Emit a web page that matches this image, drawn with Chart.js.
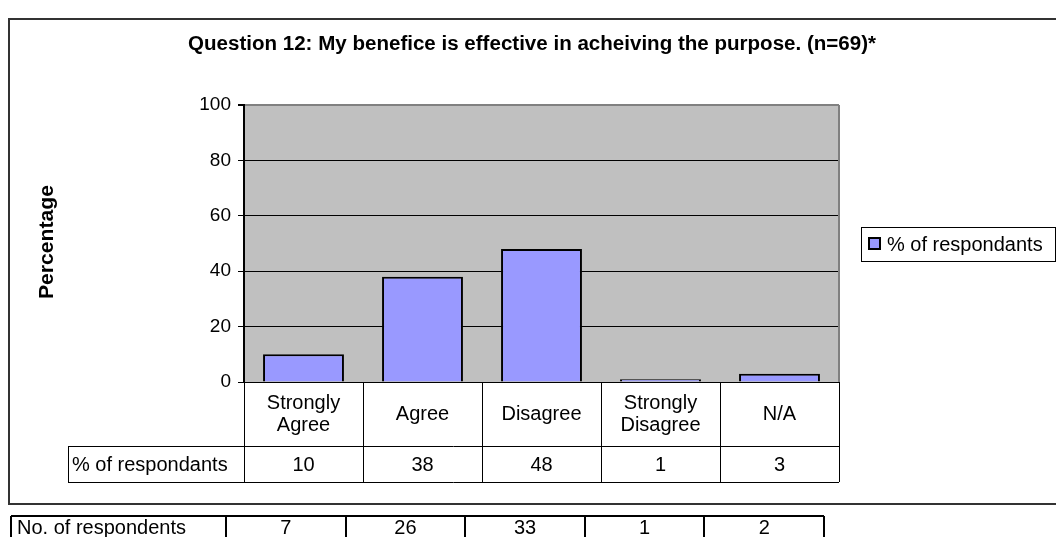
<!DOCTYPE html>
<html lang="en">
<head>
    <meta charset="UTF-8">
    <title>Question 12</title>
    <script src="https://cdn.jsdelivr.net/npm/chart.js"></script>
    <style>
        html, body { margin: 0; padding: 0; background: #fff; }
        #wrap { width: 1056px; height: 537px; }
    </style>
</head>
<body>
    <div id="wrap"><canvas id="chart" width="1056" height="537"></canvas></div>

    <script>
        // data
        const categories = [['Strongly', 'Agree'], 'Agree', 'Disagree', ['Strongly', 'Disagree'], 'N/A'];
        const percentValues = [10, 38, 48, 1, 3];
        const respondentCounts = [7, 26, 33, 1, 2];
        const seriesName = '% of respondants';
        const countRowName = 'No. of respondents';
        const chartTitle = 'Question 12: My benefice is effective in acheiving the purpose. (n=69)*';
        const yAxisTitle = 'Percentage';

        const FONT = "'Liberation Sans', Arial, sans-serif";
        const BODY = '20px ' + FONT;

        // draw text squeezed/stretched to a given width (excel export looks stretched)
        function fitText(ctx, text, x, y, font, width, rotate) {
            ctx.save();
            ctx.font = font;
            const w = ctx.measureText(text).width;
            ctx.translate(x, y);
            if (rotate) ctx.rotate(-Math.PI / 2);
            ctx.scale(width / w, 1);
            ctx.textAlign = 'center';
            ctx.textBaseline = 'middle';
            ctx.fillStyle = '#000';
            ctx.fillText(text, 0, 0);
            ctx.restore();
        }

        function line(ctx, x1, y1, x2, y2, color, lw) {
            ctx.beginPath();
            ctx.strokeStyle = color;
            ctx.lineWidth = lw;
            ctx.moveTo(x1, y1);
            ctx.lineTo(x2, y2);
            ctx.stroke();
        }

        const excelBits = {
            id: 'excelBits',
            beforeDraw(chart) {
                const { ctx, chartArea: a } = chart;
                ctx.save();
                ctx.fillStyle = '#C0C0C0';
                ctx.fillRect(a.left, a.top, a.right - a.left, a.bottom - a.top);
                ctx.restore();
            },
            afterDraw(chart) {
                const { ctx, chartArea: a } = chart;
                const x = chart.scales.x;
                ctx.save();

                // right border of plot
                line(ctx, a.right, a.top, a.right, a.bottom, '#808080', 2);

                // titles
                fitText(ctx, chartTitle, 532, 44, 'bold 20px ' + FONT, 688, false);
                fitText(ctx, yAxisTitle, 47, 242, 'bold 20px ' + FONT, 114, true);

                // legend
                ctx.strokeStyle = '#000';
                ctx.lineWidth = 1;
                ctx.strokeRect(861.5, 227.5, 194, 34);
                ctx.fillStyle = '#9999FF';
                ctx.fillRect(869, 238, 11, 11);
                ctx.lineWidth = 2;
                ctx.strokeRect(869, 238, 11, 11);
                ctx.fillStyle = '#000';
                ctx.font = BODY;
                ctx.textAlign = 'left';
                ctx.textBaseline = 'middle';
                ctx.fillText(seriesName, 887, 245);

                // data table under the axis
                const n = categories.length;
                const step = (a.right - a.left) / n;
                const rowMid = 446, rowEnd = 482, headLeft = 68;
                for (let i = 0; i <= n; i++) {
                    const bx = Math.round(a.left + i * step) + 0.5;
                    line(ctx, bx, a.bottom, bx, rowEnd, '#000', 1);
                }
                line(ctx, headLeft, rowMid + 0.5, a.right, rowMid + 0.5, '#000', 1);
                line(ctx, headLeft, rowEnd + 0.5, a.right, rowEnd + 0.5, '#000', 1);
                line(ctx, headLeft + 0.5, rowMid, headLeft + 0.5, rowEnd, '#000', 1);

                ctx.font = BODY;
                ctx.textAlign = 'center';
                ctx.textBaseline = 'middle';
                categories.forEach((c, i) => {
                    const cx = x.getPixelForValue(i);
                    const lines = Array.isArray(c) ? c : [c];
                    const cy = (a.bottom + rowMid) / 2;
                    lines.forEach((t, k) => {
                        ctx.fillText(t, cx, cy + (k - (lines.length - 1) / 2) * 22);
                    });
                    ctx.fillText(String(percentValues[i]), cx, (rowMid + rowEnd) / 2 + 1);
                });
                ctx.textAlign = 'left';
                ctx.fillText(seriesName, headLeft + 4, (rowMid + rowEnd) / 2 + 1);

                // outer chart frame
                ctx.strokeStyle = '#333';
                ctx.lineWidth = 2;
                ctx.strokeRect(9, 19, 1060, 485);

                // respondents count table below the chart
                const tLeft = 11, tHead = 215, colW = 119.6, tTop = 516;
                const tRight = tLeft + tHead + colW * n;
                line(ctx, tLeft, tTop, tRight, tTop, '#000', 2);
                line(ctx, tLeft, tTop, tLeft, 545, '#000', 2);
                for (let i = 0; i <= n; i++) {
                    const bx = Math.round(tLeft + tHead + i * colW);
                    line(ctx, bx, tTop, bx, 545, '#000', 2);
                }
                ctx.font = BODY;
                ctx.textBaseline = 'middle';
                ctx.textAlign = 'left';
                ctx.fillText(countRowName, tLeft + 6, tTop + 12);
                ctx.textAlign = 'center';
                respondentCounts.forEach((v, i) => {
                    ctx.fillText(String(v), tLeft + tHead + colW * (i + 0.5), tTop + 12);
                });

                ctx.restore();
            }
        };

        new Chart(document.getElementById('chart'), {
            type: 'bar',
            data: {
                labels: categories,
                datasets: [{
                    label: seriesName,
                    data: percentValues,
                    backgroundColor: '#9999FF',
                    borderColor: '#000',
                    borderWidth: 2,
                    categoryPercentage: 1,
                    barPercentage: 0.68
                }]
            },
            options: {
                responsive: false,
                devicePixelRatio: 1,
                animation: false,
                layout: { padding: { top: 105, right: 217, bottom: 155, left: 0 } },
                plugins: {
                    legend: { display: false },
                    title: { display: false },
                    tooltip: { enabled: false }
                },
                scales: {
                    x: {
                        display: false,
                        grid: { display: false }
                    },
                    y: {
                        min: 0,
                        max: 100,
                        afterFit: (s) => { s.width = 244; },
                        border: { display: true, color: '#000', width: 2 },
                        grid: {
                            color: (c) => c.tick && c.tick.value === 100 ? '#808080' : '#000',
                            lineWidth: (c) => c.tick && c.tick.value === 100 ? 2 : 1,
                            tickColor: '#000',
                            tickLength: 6
                        },
                        ticks: {
                            stepSize: 20,
                            padding: 7,
                            color: '#000',
                            font: { family: FONT, size: 19 }
                        }
                    }
                }
            },
            plugins: [excelBits]
        });
    </script>
</body>
</html>
